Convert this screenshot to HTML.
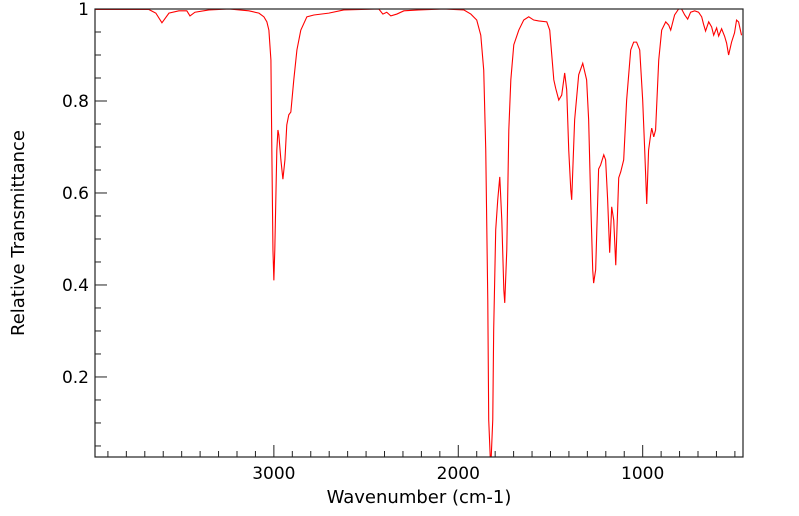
<!DOCTYPE html>
<html><head><meta charset="utf-8"><style>
html,body{margin:0;padding:0;background:#fff;}
svg{display:block;font-family:"DejaVu Sans","Liberation Sans",sans-serif;}
</style></head><body>
<svg id="chart" width="799" height="516" viewBox="0 0 799 516" xmlns="http://www.w3.org/2000/svg">
<defs><clipPath id="clip"><rect x="95" y="9" width="648" height="448"/></clipPath></defs>
<rect x="95" y="9" width="648" height="448" fill="#fff" stroke="none"/>
<g id="ticks"></g>
<path id="series" clip-path="url(#clip)" fill="none" stroke="#ff0000" stroke-width="1.1"/>
<rect x="95" y="9" width="648" height="448" fill="none" stroke="#222" stroke-width="1.2"/>
<g id="labels" font-size="17" fill="#000"></g>
<text x="419" y="503" font-size="18" text-anchor="middle">Wavenumber (cm-1)</text>
<text transform="translate(24,233) rotate(-90)" font-size="18" text-anchor="middle">Relative Transmittance</text>
</svg>
<script>
const wavenumbers=[3975,3678,3640,3607,3569,3515,3472,3455,3428,3352,3244,3136,3081,3054,3038,3027,3016,3011,3005,3000,2995,2984,2978,2973,2962,2951,2940,2930,2919,2908,2892,2875,2854,2821,2783,2702,2621,2431,2409,2388,2366,2333,2295,2214,2079,1970,1932,1900,1878,1862,1851,1840,1835,1824,1813,1808,1797,1786,1775,1764,1753,1748,1737,1726,1715,1699,1672,1645,1618,1591,1564,1520,1504,1482,1472,1455,1439,1423,1412,1401,1390,1385,1369,1347,1325,1304,1293,1282,1271,1266,1255,1239,1228,1211,1201,1190,1179,1168,1157,1146,1130,1119,1103,1087,1065,1049,1033,1016,1000,989,978,968,957,951,940,930,913,897,875,859,848,827,805,789,772,756,740,718,697,680,670,659,642,626,615,599,588,572,556,545,534,518,502,491,480,464];
const transmittance=[0.999,0.999,0.991,0.970,0.991,0.996,0.996,0.985,0.993,0.998,1.0,0.996,0.991,0.983,0.972,0.954,0.889,0.693,0.476,0.41,0.476,0.693,0.737,0.726,0.672,0.630,0.672,0.748,0.770,0.776,0.846,0.911,0.954,0.983,0.987,0.991,0.998,1.0,0.989,0.993,0.985,0.989,0.996,0.998,1.0,0.998,0.989,0.976,0.943,0.867,0.693,0.367,0.107,0.0,0.107,0.302,0.52,0.585,0.635,0.541,0.389,0.361,0.476,0.737,0.846,0.922,0.954,0.976,0.983,0.976,0.974,0.972,0.954,0.846,0.828,0.802,0.813,0.861,0.824,0.693,0.607,0.585,0.759,0.857,0.882,0.846,0.759,0.585,0.433,0.404,0.433,0.652,0.661,0.683,0.672,0.585,0.470,0.570,0.541,0.443,0.633,0.646,0.672,0.802,0.911,0.928,0.928,0.911,0.802,0.693,0.576,0.693,0.726,0.741,0.722,0.737,0.889,0.954,0.972,0.965,0.954,0.987,1.0,1.0,0.987,0.978,0.993,0.996,0.993,0.983,0.967,0.952,0.972,0.961,0.943,0.959,0.941,0.957,0.941,0.926,0.9,0.928,0.948,0.976,0.972,0.943];
const xTickValues=[3000,2000,1000];
const xTickLabels=["3000","2000","1000"];
const yTickValues=[0.2,0.4,0.6,0.8,1];
const yTickLabels=["0.2","0.4","0.6","0.8","1"];
const X0=95,X1=743,Y0=9,Y1=457,WMAX=3970,WMIN=456,TMAX=1,TMIN=0.026;
function xs(w){return X0+(WMAX-w)/(WMAX-WMIN)*(X1-X0);}
function ys(t){return Y0+(TMAX-t)/(TMAX-TMIN)*(Y1-Y0);}
let d='';
for(let i=0;i<wavenumbers.length;i++){d+=(i?'L':'M')+xs(wavenumbers[i]).toFixed(2)+','+ys(transmittance[i]).toFixed(2);}
document.getElementById('series').setAttribute('d',d);
const NS='http://www.w3.org/2000/svg';
const tg=document.getElementById('ticks'),lg=document.getElementById('labels');
function line(x1,y1,x2,y2,name){const l=document.createElementNS(NS,'line');
l.setAttribute('x1',x1);l.setAttribute('y1',y1);l.setAttribute('x2',x2);l.setAttribute('y2',y2);
l.setAttribute('stroke','#222');l.setAttribute('stroke-width','1');


tg.appendChild(l);}
for(let w=4000;w>=400;w-=100){const x=xs(w);if(x<X0||x>X1)continue;const major=w%1000===0;line(x,Y1,x,Y1-(major?12:6),'x-tick');}
for(let k=1;k<20;k++){const t=k*0.05;const y=ys(t);if(y>Y1||y<Y0)continue;const major=k%4===0;line(X0,y,X0+(major?12:6),y,'y-tick');}
xTickValues.forEach((v,i)=>{const t=document.createElementNS(NS,'text');t.setAttribute('x',xs(v));t.setAttribute('y',Y1+22);t.setAttribute('text-anchor','middle');t.textContent=xTickLabels[i];


lg.appendChild(t);});
yTickValues.forEach((v,i)=>{const t=document.createElementNS(NS,'text');t.setAttribute('x',X0-6);t.setAttribute('y',ys(v)+6);t.setAttribute('text-anchor','end');t.textContent=yTickLabels[i];


lg.appendChild(t);});
</script>
</body></html>
